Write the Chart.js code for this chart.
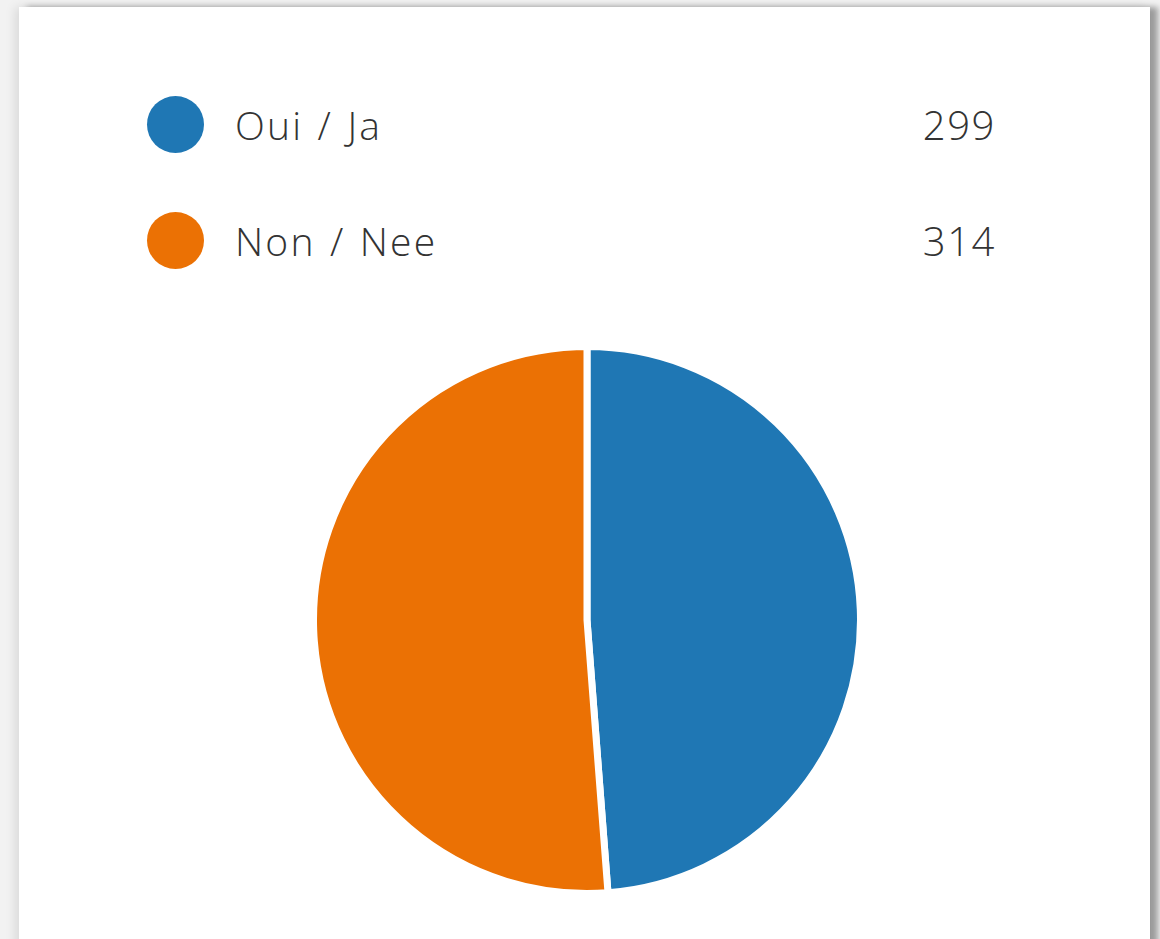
<!DOCTYPE html>
<html>
<head>
<meta charset="utf-8">
<script src="https://cdn.jsdelivr.net/npm/chart.js@4/dist/chart.umd.min.js"></script>
<style>
  html, body { margin: 0; padding: 0; }
  body {
    width: 1160px; height: 939px; overflow: hidden;
    background: #f2f2f2;
    position: relative;
    font-family: "Open Sans", "Noto Sans", sans-serif;
  }
  .card {
    position: absolute; left: 19px; top: 7px; width: 1131px; height: 960px;
    background: #fff;
    box-shadow: -4px 0 10px rgba(0,0,0,0.10), 8px 0 6px rgba(0,0,0,0.35);
  }
  .legend { position: absolute; left: 147px; top: 96px; width: 848px; }
  .row { position: relative; height: 116px; }
  .dot { position: absolute; left: 0; top: 0; width: 57px; height: 57px; border-radius: 50%; }
  .label, .value {
    position: absolute; top: 28px; transform: translateY(-50%);
    font-size: 39px; font-weight: 300; letter-spacing: 2.2px; color: #333; white-space: nowrap;
  }
  .label { left: 88px; word-spacing: 2px; }
  .value { right: -1px; font-size: 40px; letter-spacing: 1.6px; }
  .pie { position: absolute; left: 310px; top: 343px; width: 554px; height: 554px; }
</style>
</head>
<body>
<div class="card"></div>
<div class="legend" id="legend"></div>
<div class="pie"><canvas id="pie" width="554" height="554"></canvas></div>
<script>
const labels = ['Oui / Ja', 'Non / Nee']
const counts = [299, 314]
const colors = ['#1f77b4', '#eb7104']

// legend rows with the count on the right
const legendEl = document.getElementById('legend')
labels.forEach((name, i) => {
  const row = document.createElement('div')
  row.className = 'row'
  row.innerHTML = '<div class="dot" style="background:' + colors[i] + '"></div>' +
    '<div class="label">' + name + '</div>' +
    '<div class="value">' + counts[i] + '</div>'
  legendEl.appendChild(row)
})

const pieChart = new Chart(document.getElementById('pie'), {
  type: 'pie',
  data: {
    labels: labels,
    datasets: [{
      data: counts,
      backgroundColor: colors,
      borderColor: '#fff',
      borderWidth: 7
    }]
  },
  options: {
    responsive: false,
    animation: false,
    plugins: {
      legend: { display: false },
      tooltip: { enabled: false }
    }
  }
})
</script>
</body>
</html>
